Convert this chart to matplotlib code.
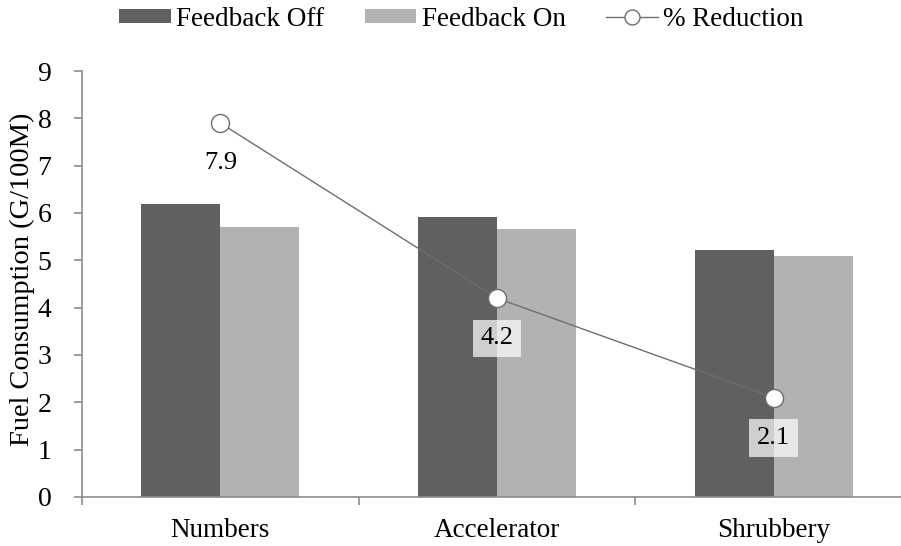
import matplotlib
matplotlib.use("Agg")
import matplotlib.pyplot as plt
import numpy as np

# data
categories = ["Numbers", "Accelerator", "Shrubbery"]
feedback_off = [6.19, 5.92, 5.22]
feedback_on = [5.70, 5.67, 5.10]
pct_reduction = [7.9, 4.2, 2.1]
y_ticks = [0, 1, 2, 3, 4, 5, 6, 7, 8, 9]

plt.rcParams['font.family'] = ['Liberation Serif', 'DejaVu Serif']

fig = plt.figure(figsize=(9.01, 5.46), dpi=100)
ax = fig.add_axes([82 / 901, 1 - 497 / 546, 819 / 901, 426 / 546])

x = np.arange(len(categories))
w = 0.285
ax.bar(x - w / 2, feedback_off, w, color='#606060', label='Feedback Off')
ax.bar(x + w / 2, feedback_on, w, color='#b2b2b2', label='Feedback On')
ax.plot(x, pct_reduction, color='#6e6e6e', lw=1.0, marker='o', ms=13,
        mfc='white', mec='#6e6e6e', mew=1.0, label='% Reduction', zorder=5)

# data labels below each point
for i, v in enumerate(pct_reduction):
    if i == 0:
        box = None
    else:
        box = dict(boxstyle='square,pad=0.3', fc='white', ec='none', alpha=0.7)
    ax.annotate(f"{v:.1f}", (x[i], v), xytext=(0, -29), textcoords='offset points',
                ha='center', va='center', fontsize=19, bbox=box, zorder=6)

ax.set_ylim(0, 9)
ax.set_xlim(-0.5, -0.5 + 819 / 276.7)
ax.set_yticks(y_ticks)
ax.set_xticks(x)
ax.set_xticklabels(categories)
ax.set_xticks([-0.5, 0.5, 1.5], minor=True)

for s in ['top', 'right']:
    ax.spines[s].set_visible(False)
for s in ['left', 'bottom']:
    ax.spines[s].set_color('#8c8c8c')
    ax.spines[s].set_linewidth(1.2)

ax.tick_params(axis='y', length=6, color='#8c8c8c', width=1.2, pad=16, labelsize=20)
ax.tick_params(axis='x', which='major', length=0, pad=15, labelsize=19.5)
ax.tick_params(axis='x', which='minor', length=6, color='#8c8c8c', width=1.2)

ax.set_ylabel("Fuel Consumption (G/100M)", fontsize=20.5)
ax.yaxis.set_label_coords(-0.057, 0.51)

# legend order as in the reference: bars first, then the line
handles, labels = ax.get_legend_handles_labels()
order = [labels.index('Feedback Off'), labels.index('Feedback On'), labels.index('% Reduction')]
fig.legend([handles[i] for i in order], [labels[i] for i in order], loc='center',
           bbox_to_anchor=(461.5 / 901, 1 - 19 / 546), ncol=3, frameon=False,
           fontsize=19.5, handlelength=1.9, handleheight=0.45,
           handletextpad=0.2, columnspacing=1.5, markerscale=0.83)

fig.savefig("out.png", dpi=100)
